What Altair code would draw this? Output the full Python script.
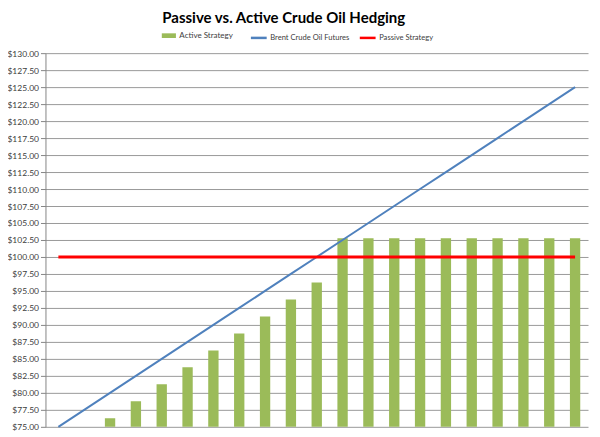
import altair as alt
import pandas as pd

futures = [75.0, 77.5, 80.0, 82.5, 85.0, 87.5, 90.0, 92.5, 95.0, 97.5, 100.0,
           102.5, 105.0, 107.5, 110.0, 112.5, 115.0, 117.5, 120.0, 122.5, 125.0]
active = [71.25, 73.75, 76.25, 78.75, 81.25, 83.75, 86.25, 88.75, 91.25, 93.75, 96.25,
          102.75, 102.75, 102.75, 102.75, 102.75, 102.75, 102.75, 102.75, 102.75, 102.75]
passive = [100.0] * 21
y_ticks = [75.0, 77.5, 80.0, 82.5, 85.0, 87.5, 90.0, 92.5, 95.0, 97.5, 100.0, 102.5, 105.0,
           107.5, 110.0, 112.5, 115.0, 117.5, 120.0, 122.5, 125.0, 127.5, 130.0]

df = pd.DataFrame({"idx": list(range(len(futures))), "futures": futures,
                   "active": active, "passive": passive})
lines = pd.concat([
    pd.DataFrame({"idx": df["idx"], "value": df["futures"], "series": "Brent Crude Oil Futures"}),
    pd.DataFrame({"idx": df["idx"], "value": df["passive"], "series": "Passive Strategy"}),
])

FONT = "Lato"
xenc = alt.X("idx:O", title=None,
             scale=alt.Scale(paddingInner=0.6, paddingOuter=0.3),
             axis=alt.Axis(labels=False, ticks=False, domain=False, grid=False))
yscale = alt.Scale(domain=[75, 130], nice=False, zero=False)
yaxis = alt.Axis(values=y_ticks, format="$.2f", labelFont=FONT, labelFontSize=8.5,
                 labelColor="#404040", tickColor="#868686", tickSize=5,
                 domainColor="#868686", gridColor="#9a9a9a", labelPadding=2,
                 labelOverlap=False, labelBound=False)

bars = alt.Chart(df).mark_bar(clip=True).encode(
    x=xenc,
    y=alt.Y("active:Q", scale=yscale, title=None, axis=yaxis),
    fill=alt.Fill("s:N", scale=alt.Scale(domain=["Active Strategy"], range=["#9BBB59"]),
                  legend=alt.Legend(title=None, orient="none", legendX=116, legendY=-25,
                                    symbolType="M-1,-0.33H1V0.33H-1Z", symbolSize=200,
                                    labelFont=FONT, labelFontSize=8, labelColor="#404040",
                                    labelOffset=3, symbolStrokeWidth=0)),
).transform_calculate(s="'Active Strategy'")

line = alt.Chart(lines).mark_line().encode(
    x=xenc,
    y=alt.Y("value:Q", scale=yscale, title=None, axis=yaxis),
    stroke=alt.Stroke("series:N",
                      scale=alt.Scale(domain=["Brent Crude Oil Futures", "Passive Strategy"],
                                      range=["#4F81BD", "#FF0000"]),
                      legend=alt.Legend(title=None, orient="none", legendX=204, legendY=-25,
                                        direction="horizontal", symbolType="stroke",
                                        symbolSize=250, symbolStrokeWidth=2.5,
                                        labelFont=FONT, labelFontSize=7.6, labelColor="#404040",
                                        labelOffset=2, columnPadding=4)),
    strokeWidth=alt.StrokeWidth("series:N",
                                scale=alt.Scale(domain=["Brent Crude Oil Futures", "Passive Strategy"],
                                                range=[2, 3]),
                                legend=None),
)

chart = alt.layer(bars, line).properties(
    width=543, height=374,
    autosize=alt.AutoSizeParams(type="none"),
    padding={"left": 37.5, "top": 45, "right": 4, "bottom": 6},
    title=alt.Title("Passive vs. Active Crude Oil Hedging", font=FONT, fontSize=15,
                    fontWeight="bold", color="#000000", anchor="middle", dx=-33, offset=2),
).configure_view(stroke=None).resolve_legend(stroke="independent")

chart.save("out.html", embed_options={"renderer": "svg", "actions": False})
